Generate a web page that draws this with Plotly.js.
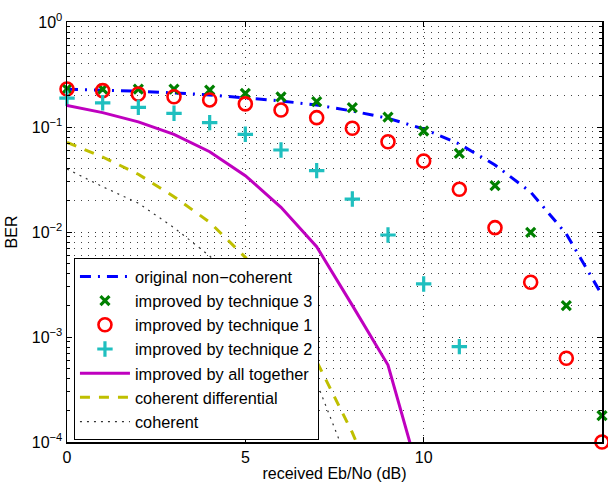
<!DOCTYPE html>
<html>
<head>
<meta charset="utf-8">
<script src="https://cdn.plot.ly/plotly-3.0.1.min.js"></script>
<style>html,body{margin:0;padding:0;background:#fff;}#chart{width:608px;height:485px;}</style>
</head>
<body>
<div id="chart"></div>
<script>
// Eb/No axis (dB)
var ebno = [0,1,2,3,4,5,6,7,8,9,10,11,12,13,14,15];
// BER series
var berOriginal = [0.229,0.225,0.219,0.211,0.202,0.189,0.177,0.162,0.142,0.121,0.0957,0.0689,0.0435,0.0240,0.00957,0.00251];
var berTech3 = [0.231,0.230,0.229,0.229,0.225,0.209,0.194,0.174,0.153,0.124,0.0916,0.0562,0.0276,0.00993,0.00199,0.000178];
var berTech1 = [0.230,0.222,0.206,0.194,0.181,0.166,0.145,0.1227,0.0972,0.0724,0.0475,0.0255,0.0110,0.00332,0.000627,0.0001];
var ebnoTech2 = [0,1,2,3,4,5,6,7,8,9,10,11];
var berTech2 = [0.188,0.170,0.154,0.135,0.110,0.0852,0.0604,0.0384,0.0206,0.00936,0.00320,0.000809];
var ebnoAll = [0,1,2,3,4,5,6,7,8,9,10];
var berAll = [0.160,0.137,0.112,0.0852,0.0582,0.0344,0.0172,0.00724,0.0020,0.00054,0.000034];
var ebnoCohDiff = [0,1,2,3,4,5,6,7,8,9];
var berCohDiff = [0.0715,0.0518,0.0355,0.0217,0.0124,0.00574,0.00206,0.000587,0.000123,0.000019];
var ebnoCoh = [0,1,2,3,4,5,6,7,8];
var berCoh = [0.0398,0.0270,0.0188,0.0110,0.00591,0.00274,0.00109,0.00037,0.00005];

var names = ['original non\u2212coherent','improved by technique 3','improved by technique 1','improved by technique 2','improved by all together','coherent differential','coherent'];
var xTicks = [0,5,10,15];
var xTickText = ['0','5','10','15'];
var yTicks = [1e-4,1e-3,1e-2,1e-1,1];
var yTickText = ['10<sup>\u22124</sup>','10<sup>\u22123</sup>','10<sup>\u22122</sup>','10<sup>\u22121</sup>','10<sup>0</sup>'];

var yMinor = [];
for (var d = -4; d < 0; d++) { for (var m = 2; m <= 9; m++) { yMinor.push(m * Math.pow(10, d)); } }

var font = {family: 'Liberation Sans, Arial, Helvetica, sans-serif', size: 16, color: '#000'};
var legendFont = {family: 'Liberation Sans, Arial, Helvetica, sans-serif', size: 16.3, color: '#000'};

var traces = [
  {x: ebno, y: berOriginal, name: names[0], mode: 'lines', line: {color: '#0000ff', width: 3, dash: '11px,7px,2px,7px'}},
  {x: ebno, y: berTech3, name: names[1], mode: 'markers', cliponaxis: false,
   marker: {symbol: 'x-thin-open', size: 9, color: '#008000', line: {color: '#008000', width: 3.2}}},
  {x: ebno, y: berTech1, name: names[2], mode: 'markers', cliponaxis: false,
   marker: {symbol: 'circle-open', size: 13, color: '#ff0000', line: {color: '#ff0000', width: 2.6}}},
  {x: ebnoTech2, y: berTech2, name: names[3], mode: 'markers', cliponaxis: false,
   marker: {symbol: 'cross-thin-open', size: 11, color: '#1fbfbf', line: {color: '#1fbfbf', width: 3.2}}},
  {x: ebnoAll, y: berAll, name: names[4], mode: 'lines', line: {color: '#bf00bf', width: 3}},
  {x: ebnoCohDiff, y: berCohDiff, name: names[5], mode: 'lines', line: {color: '#bfbf00', width: 3, dash: '10px,9px'}},
  {x: ebnoCoh, y: berCoh, name: names[6], mode: 'lines', line: {color: '#333333', width: 1.2, dash: '2px,5px'}}
];

var layout = {
  width: 608, height: 485,
  margin: {l: 67, r: 6, t: 22, b: 43, pad: 0},
  paper_bgcolor: '#fff', plot_bgcolor: '#fff',
  font: font,
  showlegend: true,
  legend: {x: 0.013, y: 0.004, xanchor: 'left', yanchor: 'bottom', bgcolor: '#fff',
           bordercolor: '#000', borderwidth: 1, font: legendFont, itemwidth: 50, traceorder: 'normal'},
  xaxis: {
    range: [0, 15], tickmode: 'array', tickvals: xTicks, ticktext: xTickText,
    ticks: 'inside', ticklen: 5, tickwidth: 1, tickcolor: '#000',
    showline: true, linecolor: '#000', linewidth: 1.5, mirror: 'allticks',
    showgrid: true, gridcolor: '#333', gridwidth: 1, griddash: '1px,6px',
    zeroline: false, tickfont: font,
    title: {text: 'received Eb/No (dB)', font: font, standoff: 3}
  },
  yaxis: {
    type: 'log', range: [-4, 0], tickmode: 'array', tickvals: yTicks, ticktext: yTickText,
    ticks: 'inside', ticklen: 5, tickwidth: 1, tickcolor: '#000',
    showline: true, linecolor: '#000', linewidth: 1.5, mirror: 'allticks',
    showgrid: true, gridcolor: '#333', gridwidth: 1, griddash: '1px,6px',
    zeroline: false, tickfont: font,
    minor: {tickmode: 'array', tickvals: yMinor, ticks: 'inside', ticklen: 3, tickcolor: '#000',
            showgrid: true, gridcolor: '#444', gridwidth: 1, griddash: '1px,6px'},
    title: {text: 'BER', font: font, standoff: 10}
  }
};

Plotly.newPlot('chart', traces, layout, {displayModeBar: false, staticPlot: true});
</script>
</body>
</html>
